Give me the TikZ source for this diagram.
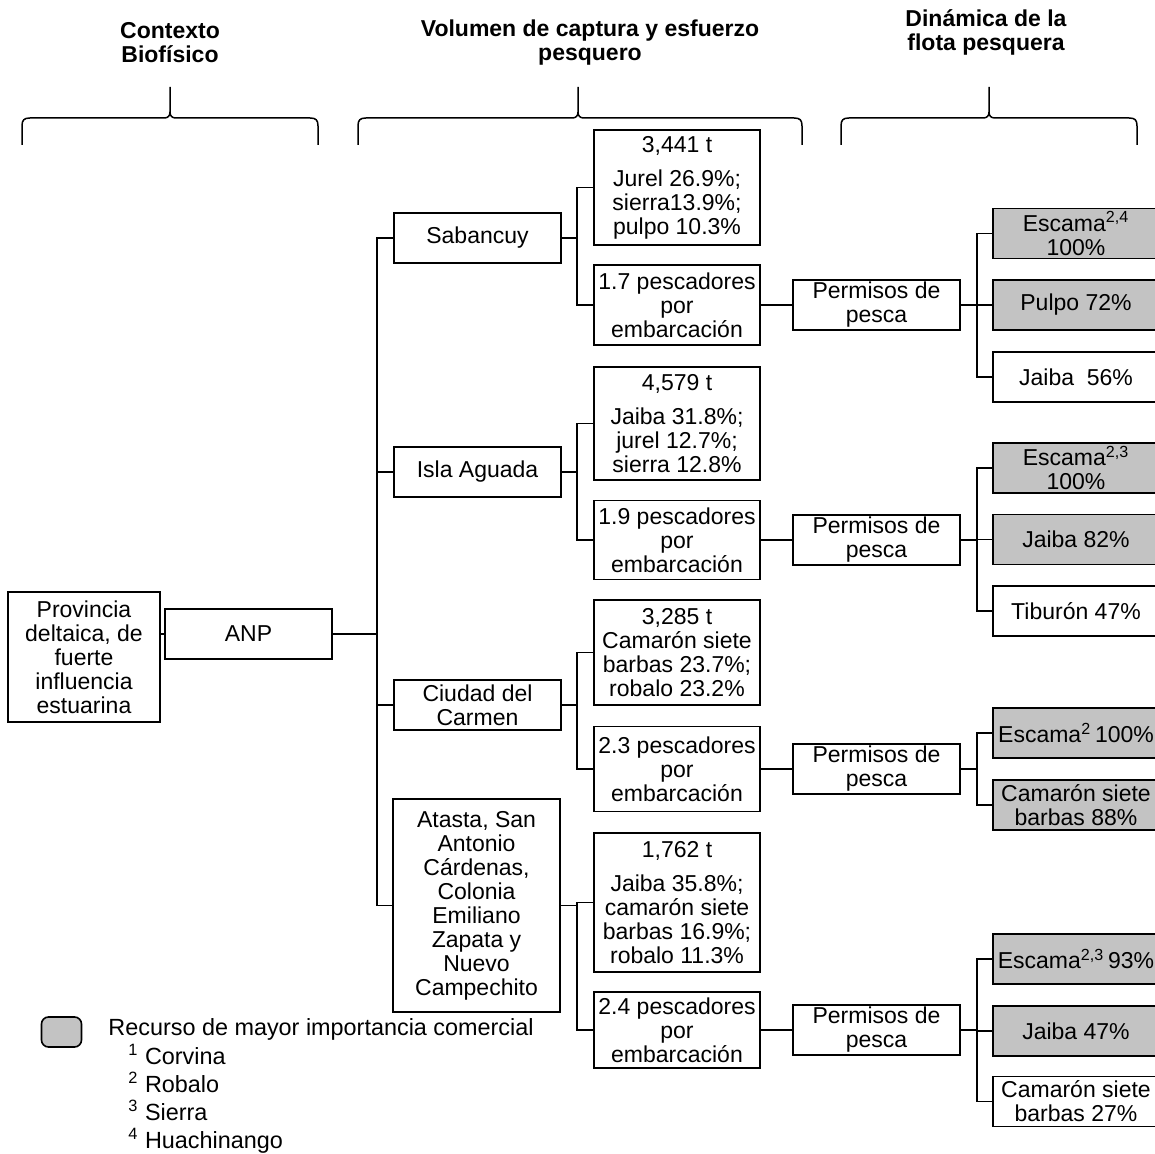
\documentclass[tikz,border=0pt]{standalone}
\usepackage{fontspec}
\setmainfont{Liberation Sans}
\definecolor{recgray}{RGB}{195,195,195}
\tikzset{
caja/.style={
  draw=black,
  line width=0.9pt,
  fill=white,
  align=center,
  inner sep=1pt,
  minimum width=83pt,
  font=\fontsize{11.5}{12}\selectfont
},
zonacaja/.style={
  caja,
  minimum width=83.5pt,
  minimum height=25pt
},
datocaja/.style={
  caja
},
permcaja/.style={
  caja,
  minimum width=83.5pt,
  minimum height=25pt
},
recursocaja/.style={
  caja,
  minimum height=25pt
},
mayorcaja/.style={
  recursocaja,
  fill=recgray
},
enlace/.style={
  line width=0.75pt,
  draw=black
},
llave/.style={
  line width=0.75pt,
  draw=black
},
titulo/.style={
  font=\bfseries\fontsize{11.5}{12}\selectfont,
  align=center
},
leyenda/.style={
  font=\fontsize{11.7}{14}\selectfont,
  inner sep=0pt,
  anchor=base west
}
}
% llave de cada columna: extremo izq., punta, extremo der.
\newcommand{\llavecol}[3]{%
  \draw[llave] (#1,145) -- (#1,126) .. controls (#1,120) and (#1+2,118) .. (#1+8,118) -- (#2-6,118) .. controls (#2-2,118) and (#2,116) .. (#2,112) -- (#2,87);
  \draw[llave] (#3,145) -- (#3,126) .. controls (#3,120) and (#3-2,118) .. (#3-8,118) -- (#2+6,118) .. controls (#2+2,118) and (#2,116) .. (#2,112);
}

\begin{document}
\begin{tikzpicture}[x=0.5pt, y=-0.5pt]

\useasboundingbox (0,0) rectangle (1155,1154);
\fill[white] (0,0) rectangle (1155,1154);
\clip (0,0) rectangle (1155,1154);

% ============================================================================
% Titulos y llaves
% ============================================================================
\node[titulo] (tcontexto) at (170,43) {Contexto\\Biofísico};
\node[titulo] (tvolumen) at (590,43) {Volumen de captura y esfuerzo\\pesquero};
\node[titulo] (tdinamica) at (986,32) {Dinámica de la\\flota pesquera};

\llavecol{22}{170}{318}
\llavecol{358}{578}{802}
\llavecol{841}{989}{1137}

% ============================================================================
% Contexto biofisico
% ============================================================================
\node[caja, minimum width=76pt, minimum height=65pt] (prov) at (84,657) {Provincia\\deltaica, de\\fuerte\\influencia\\estuarina};
\node[zonacaja] (anp) at (248.5,634) {ANP};

% ============================================================================
% Localidades
% ============================================================================
\node[zonacaja] (sab) at (477.5,238) {Sabancuy};
\node[zonacaja] (isla) at (477.5,472) {Isla Aguada};
\node[zonacaja] (carmen) at (477.5,705) {Ciudad del\\Carmen};
\node[caja, minimum width=83.5pt, minimum height=106.5pt] (atasta) at (476.5,905.5) {Atasta, San\\Antonio\\Cárdenas,\\Colonia\\Emiliano\\Zapata y\\Nuevo\\Campechito};

% ============================================================================
% Volumen de captura y esfuerzo
% ============================================================================
\node[datocaja, minimum height=57.5pt] (cap1) at (677,187.5) {3,441 t\\[5pt]Jurel 26.9\%;\\sierra13.9\%;\\pulpo 10.3\%};
\node[datocaja, minimum height=40pt] (pes1) at (677,305) {1.7 pescadores\\por\\embarcación};
\node[datocaja, minimum height=56.5pt] (cap2) at (677,423.5) {4,579 t\\[5pt]Jaiba 31.8\%;\\jurel 12.7\%;\\sierra 12.8\%};
\node[datocaja, minimum height=39.5pt] (pes2) at (677,540) {1.9 pescadores\\por\\embarcación};
\node[datocaja, minimum height=52.5pt] (cap3) at (677,652.5) {3,285 t\\Camarón siete\\barbas 23.7\%;\\robalo 23.2\%};
\node[datocaja, minimum height=42.5pt] (pes3) at (677,769) {2.3 pescadores\\por\\embarcación};
\node[datocaja, minimum height=69.5pt] (cap4) at (677,902.5) {1,762 t\\[5pt]Jaiba 35.8\%;\\camarón siete\\barbas 16.9\%;\\robalo 11.3\%};
\node[datocaja, minimum height=38pt] (pes4) at (677,1030) {2.4 pescadores\\por\\embarcación};

% ============================================================================
% Permisos de pesca
% ============================================================================
\node[permcaja] (perm1) at (876.5,305) {Permisos de\\pesca};
\node[permcaja] (perm2) at (876.5,540) {Permisos de\\pesca};
\node[permcaja] (perm3) at (876.5,769) {Permisos de\\pesca};
\node[permcaja] (perm4) at (876.5,1030) {Permisos de\\pesca};

% ============================================================================
% Recursos por permiso
% ============================================================================
\node[mayorcaja] (rec11) at (1076,233.5) {Escama\textsuperscript{2,4}\\100\%};
\node[mayorcaja] (rec12) at (1076,305) {Pulpo 72\%};
\node[recursocaja] (rec13) at (1076,377) {Jaiba\ \ 56\%};

\node[mayorcaja] (rec21) at (1076,468) {Escama\textsuperscript{2,3}\\100\%};
\node[mayorcaja] (rec22) at (1076,539.5) {Jaiba 82\%};
\node[recursocaja] (rec23) at (1076,611) {Tiburón 47\%};

\node[mayorcaja] (rec31) at (1076,733) {Escama\textsuperscript{2}\,100\%};
\node[mayorcaja] (rec32) at (1076,805) {Camarón siete\\barbas 88\%};

\node[mayorcaja] (rec41) at (1076,959) {Escama\textsuperscript{2,3}\,93\%};
\node[mayorcaja] (rec42) at (1076,1031) {Jaiba 47\%};
\node[recursocaja] (rec43) at (1076,1101.5) {Camarón siete\\barbas 27\%};

% ============================================================================
% Troncos de las ramas
% ============================================================================
\coordinate (troncoA) at (377,0);
\coordinate (troncoB) at (577,0);
\coordinate (troncoC) at (977,0);

% ============================================================================
% Enlaces ANP -> localidades
% ============================================================================
\draw[enlace] (prov.east |- anp.west) -- (anp.west);
\draw[enlace] (anp.east) -- (anp.east -| troncoA) |- (sab.west);
\draw[enlace] (anp.east) -- (anp.east -| troncoA) |- (isla.west);
\draw[enlace] (anp.east) -- (anp.east -| troncoA) |- (carmen.west);
\draw[enlace] (anp.east) -- (anp.east -| troncoA) |- (atasta.west);

% ============================================================================
% Enlaces localidades -> captura y esfuerzo
% ============================================================================
\draw[enlace] (sab.east) -- (sab.east -| troncoB) |- (cap1.west);
\draw[enlace] (sab.east) -- (sab.east -| troncoB) |- (pes1.west);
\draw[enlace] (isla.east) -- (isla.east -| troncoB) |- (cap2.west);
\draw[enlace] (isla.east) -- (isla.east -| troncoB) |- (pes2.west);
\draw[enlace] (carmen.east) -- (carmen.east -| troncoB) |- (cap3.west);
\draw[enlace] (carmen.east) -- (carmen.east -| troncoB) |- (pes3.west);
\draw[enlace] (atasta.east) -- (atasta.east -| troncoB) |- (cap4.west);
\draw[enlace] (atasta.east) -- (atasta.east -| troncoB) |- (pes4.west);

% ============================================================================
% Enlaces esfuerzo -> permisos
% ============================================================================
\draw[enlace] (pes1.east) -- (perm1.west);
\draw[enlace] (pes2.east) -- (perm2.west);
\draw[enlace] (pes3.east) -- (perm3.west);
\draw[enlace] (pes4.east) -- (perm4.west);

% ============================================================================
% Enlaces permisos -> recursos
% ============================================================================
\draw[enlace] (perm1.east) -- (perm1.east -| troncoC) |- (rec11.west);
\draw[enlace] (perm1.east) -- (perm1.east -| troncoC) |- (rec12.west);
\draw[enlace] (perm1.east) -- (perm1.east -| troncoC) |- (rec13.west);
\draw[enlace] (perm2.east) -- (perm2.east -| troncoC) |- (rec21.west);
\draw[enlace] (perm2.east) -- (perm2.east -| troncoC) |- (rec22.west);
\draw[enlace] (perm2.east) -- (perm2.east -| troncoC) |- (rec23.west);
\draw[enlace] (perm3.east) -- (perm3.east -| troncoC) |- (rec31.west);
\draw[enlace] (perm3.east) -- (perm3.east -| troncoC) |- (rec32.west);
\draw[enlace] (perm4.east) -- (perm4.east -| troncoC) |- (rec41.west);
\draw[enlace] (perm4.east) -- (perm4.east -| troncoC) |- (rec42.west);
\draw[enlace] (perm4.east) -- (perm4.east -| troncoC) |- (rec43.west);

% ============================================================================
% Leyenda
% ============================================================================
\node[draw=black, line width=0.8pt, fill=recgray, rounded corners=3.5pt, minimum width=20pt, minimum height=15pt, inner sep=0pt] (legcaja) at (61.5,1032) {};
\node[leyenda] (legtexto) at (108,1035) {Recurso de mayor importancia comercial};
\node[leyenda] (nota1) at (128,1064) {\textsuperscript{1} Corvina};
\node[leyenda] (nota2) at (128,1092) {\textsuperscript{2} Robalo};
\node[leyenda] (nota3) at (128,1120) {\textsuperscript{3} Sierra};
\node[leyenda] (nota4) at (128,1148) {\textsuperscript{4} Huachinango};

\end{tikzpicture}
\end{document}
